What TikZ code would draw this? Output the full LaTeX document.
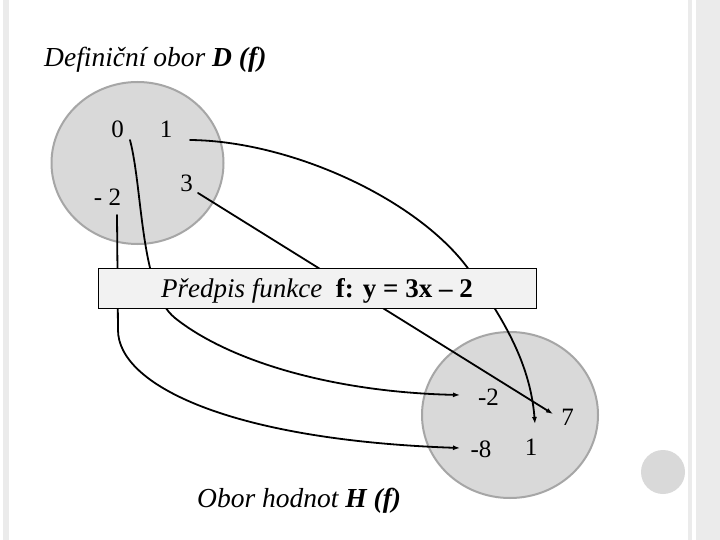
\documentclass[tikz,border=0pt]{standalone}
\usepackage{fontspec}
\setmainfont{Liberation Serif}
\usetikzlibrary{arrows.meta}
\definecolor{setfill}{RGB}{217,217,217}
\definecolor{setedge}{RGB}{166,166,166}
\definecolor{boxfill}{RGB}{242,242,242}
\definecolor{stripgray}{RGB}{235,235,235}
\tikzset{
  num/.style={inner sep=0pt, anchor=base, font=\fontsize{25}{29}\selectfont},
  setdisk/.style={fill=setfill, draw=setedge, line width=2pt},
  mapline/.style={line width=1.8pt, line cap=round},
  maparrow/.style={mapline, -{Latex[length=7pt,width=5pt]}},
  caption/.style={inner sep=0pt, anchor=base west, font=\fontsize{27.5}{31}\selectfont\itshape},
  rulebox/.style={draw=black, line width=0.8pt, fill=boxfill, inner sep=0pt,
    minimum width=438pt, text height=29pt, text depth=11pt, anchor=base,
    font=\fontsize{27}{31}\selectfont}
}
\begin{document}
\begin{tikzpicture}[x=1pt,y=-1pt]
\useasboundingbox (0,0) rectangle (720,540);
\fill[white] (0,0) rectangle (720,540);
% slide edge strips
\fill[stripgray] (3,0) rectangle (9,540);
\fill[stripgray] (688,0) rectangle (692,540);
\fill[stripgray] (696,0) rectangle (720,540);
\fill[setfill] (663,472) circle (22);
% sets
\draw[setdisk] (137.5,163) ellipse (86 and 81);
\draw[setdisk] (510,415) ellipse (88 and 83);
% titles
\node[caption] (domtitle) at (44,67) {Definiční obor \textbf{D (f)}};
\node[caption] (rangetitle) at (197,507) {Obor hodnot \textbf{H (f)}};
% domain numbers
\node[num] (d0) at (117.5,138) {0};
\node[num] (d1) at (166,138) {1};
\node[num] (d3) at (186.5,192) {3};
\node[num] (dm2) at (107.5,206) {- 2};
% range numbers
\node[num] (rm2) at (488.5,405) {-2};
\node[num] (rm8) at (481,457) {-8};
\node[num] (r1) at (531,455) {1};
\node[num] (r7) at (567.5,425) {7};
% connector ends
\coordinate (s0) at (130,140);
\coordinate (s1) at (190,140);
\coordinate (s3) at (198,193);
\coordinate (sm2) at (117,215);
\coordinate (tm2) at (460,395);
\coordinate (tm8) at (460,448);
\coordinate (t1) at (535,424);
\coordinate (t7) at (553,414);
% mappings
\draw[maparrow] (s0) .. controls (143,190) and (140,290) .. (175,318)
   .. controls (227.5,360) and (330,392) .. (tm2);
\draw[maparrow] (sm2) -- (118,330) .. controls (118,385) and (230,440) .. (tm8);
\draw[maparrow] (s1) .. controls (290,141) and (415,198) .. (467,267)
   .. controls (500,314) and (530,360) .. (t1);
\draw[maparrow] (s3) -- (t7);
% rule box
\node[rulebox] (rule) at (317,297) {\textit{Předpis funkce}\enspace\textbf{f: y = 3x – 2}};
\end{tikzpicture}
\end{document}
